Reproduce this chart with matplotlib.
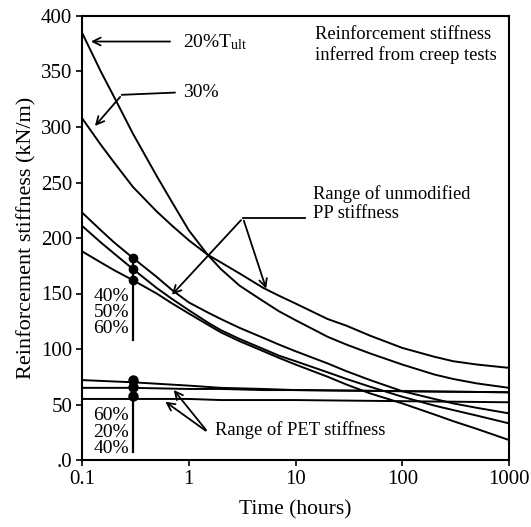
import matplotlib
matplotlib.use("Agg")
import matplotlib.pyplot as plt

plt.rcParams['font.family'] = ['Liberation Serif', 'DejaVu Serif']
plt.rcParams['mathtext.fontset'] = 'custom'
plt.rcParams['mathtext.rm'] = 'Liberation Serif'
plt.rcParams['mathtext.it'] = 'Liberation Serif:italic'

# time grid (hours)
time_h = [0.1, 0.15, 0.2, 0.3, 0.5, 0.7, 1, 1.5, 2, 3, 5, 7, 10,
          20, 30, 50, 100, 200, 300, 500, 1000]

# PP creep-derived stiffness curves (kN/m)
pp_20 = [385, 350, 327, 294, 256, 232, 207, 185, 172, 157, 143, 134, 126,
         111, 104, 96, 86, 77, 73, 69, 65]
pp_30 = [308, 284, 268, 246, 224, 211, 198, 185, 178, 168, 155, 148, 141,
         127, 121, 112, 101, 93, 89, 86, 83]
pp_40 = [223, 207, 196, 182, 165, 153, 142, 133, 127, 119, 110, 104, 98,
         87, 80, 72, 62, 55, 51, 47, 42]
pp_50 = [211, 196, 186, 172, 155, 145, 135, 124, 117, 109, 100, 94, 89,
         79, 73, 66, 57, 49, 45, 40, 33]
pp_60 = [188, 178, 171, 162, 150, 141, 132, 122, 115, 107, 98, 92, 86,
         75, 68, 60, 51, 41, 35, 28, 18]

# PET stiffness lines (kN/m)
pet_time = [0.1, 0.3, 1, 2, 5, 10, 100, 1000]
pet_60 = [72, 70, 67, 65, 64, 63, 62, 61]
pet_20 = [65, 65, 64, 64, 63, 63, 62, 61]
pet_40 = [55, 55, 55, 54, 54, 54, 53, 52]

# marker values at t = 0.3 h
dot_time = 0.3
pp_dots = [182, 172, 162]
pet_dots = [72, 66, 58]

x_ticks = [0.1, 1, 10, 100, 1000]
x_ticklabels = ['0.1', '1', '10', '100', '1000']
y_ticks = [0, 50, 100, 150, 200, 250, 300, 350, 400]
y_ticklabels = ['.0', '50', '100', '150', '200', '250', '300', '350', '400']

fig = plt.figure(figsize=(5.31, 5.27), dpi=100)
ax = fig.add_axes([82/531, 1-460/527, (509-82)/531, (460-16)/527])

lw = 1.4
for s in [pp_20, pp_30, pp_40, pp_50, pp_60]:
    ax.plot(time_h, s, color='black', lw=lw, solid_capstyle='butt')
for s in [pet_60, pet_20, pet_40]:
    ax.plot(pet_time, s, color='black', lw=lw, solid_capstyle='butt')

# markers + vertical stems
ax.plot([dot_time]*len(pp_dots), pp_dots, 'o', color='black', ms=6)
ax.plot([dot_time, dot_time], [pp_dots[0], 108], color='black', lw=1.6)
ax.plot([dot_time]*len(pet_dots), pet_dots, 'o', color='black', ms=6.5)
ax.plot([dot_time, dot_time], [pet_dots[0], 66], color='black', lw=5)
ax.plot([dot_time, dot_time], [pet_dots[0], 7], color='black', lw=1.6)

ax.set_xscale('log')
ax.set_xlim(0.1, 1000)
ax.set_ylim(0, 400)
ax.set_xticks(x_ticks)
ax.set_xticklabels(x_ticklabels)
ax.set_yticks(y_ticks)
ax.set_yticklabels(y_ticklabels)
ax.minorticks_off()
ax.tick_params(axis='both', direction='out', length=4, width=1.2, labelsize=15, pad=3)
for sp in ax.spines.values():
    sp.set_linewidth(1.5)

ax.set_xlabel('Time (hours)', fontsize=15.5, labelpad=8)
ax.set_ylabel('Reinforcement stiffness (kN/m)', fontsize=16, labelpad=3)

fs = 13.3
arrow = dict(arrowstyle='->', color='black', lw=1.3, mutation_scale=14)

# 20% Tult
ax.annotate('', xy=(0.114, 377), xytext=(0.71, 377), arrowprops=arrow)
ax.text(0.88, 376, '20%T$_{\\rm ult}$', fontsize=14, va='center', ha='left')

# 30%
ax.plot([0.74, 0.237], [331, 329], color='black', lw=1.3)
ax.annotate('', xy=(0.127, 299), xytext=(0.237, 329), arrowprops=arrow)
ax.text(0.88, 331, '30%', fontsize=14, va='center', ha='left')

ax.text(15.2, 391, 'Reinforcement stiffness\ninferred from creep tests',
        fontsize=fs, va='top', ha='left', linespacing=1.2)

# Range of unmodified PP stiffness
ax.plot([3.22, 12.3], [218, 218], color='black', lw=1.3)
ax.annotate('', xy=(0.667, 147), xytext=(3.22, 218), arrowprops=arrow)
ax.annotate('', xy=(5.41, 152), xytext=(3.22, 218), arrowprops=arrow)
ax.text(14.5, 248, 'Range of unmodified\nPP stiffness', fontsize=fs,
        va='top', ha='left', linespacing=1.15)

# Range of PET stiffness
ax.annotate('', xy=(0.574, 54), xytext=(1.51, 25), arrowprops=arrow)
ax.annotate('', xy=(0.697, 65), xytext=(1.51, 25), arrowprops=arrow)
ax.text(1.76, 27, 'Range of PET stiffness', fontsize=fs, va='center', ha='left')

# percentage labels
ax.text(0.275, 133, '40%\n50%\n60%', fontsize=14, ha='right', va='center', linespacing=0.95)
ax.text(0.275, 25, '60%\n20%\n40%', fontsize=14, ha='right', va='center', linespacing=0.95)

fig.savefig('out.png', dpi=100)
